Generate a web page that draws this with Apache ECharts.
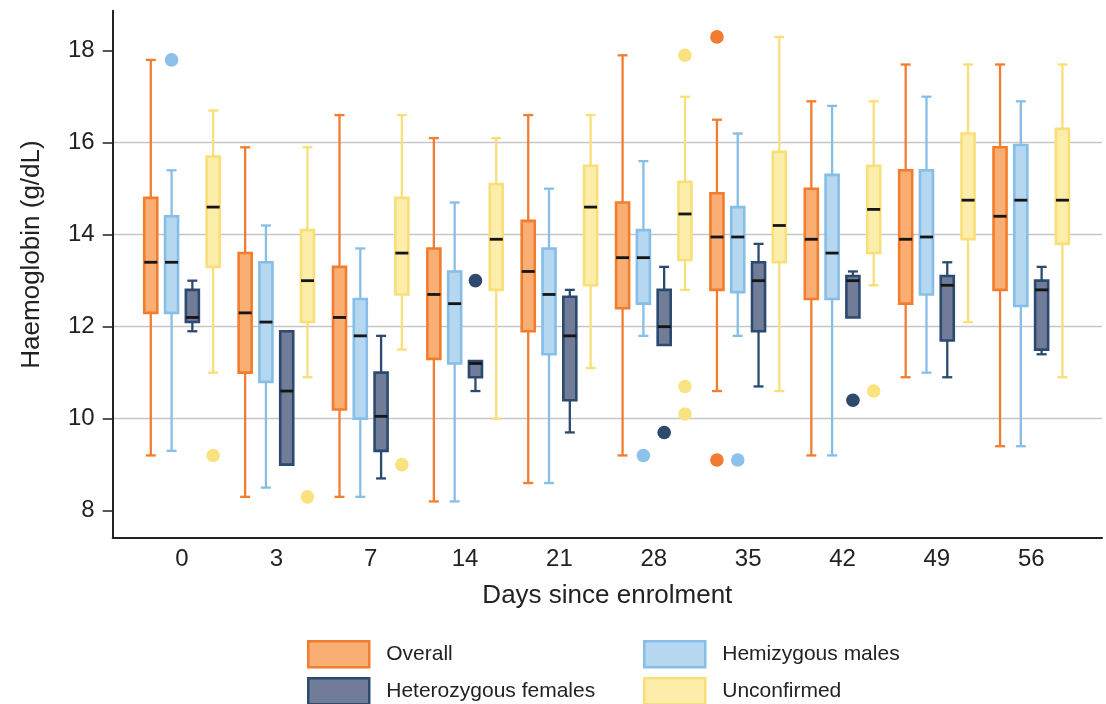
<!DOCTYPE html>
<html><head><meta charset="utf-8">
<script src="https://cdn.jsdelivr.net/npm/echarts@6/dist/echarts.min.js"></script>
<style>html,body{margin:0;padding:0;background:#fff}#c{width:1106px;height:704px}</style>
</head><body><div id="c"></div>
<script>
// ---- data ----
const days = ['0','3','7','14','21','28','35','42','49','56'];
const yTicks = [8, 10, 12, 14, 16, 18];
const groupNames = ['Overall', 'Hemizygous males', 'Heterozygous females', 'Unconfirmed'];

// [lower whisker, Q1, median, Q3, upper whisker] per day
const overall = [
  [9.2, 12.3, 13.4, 14.8, 17.8],
  [8.3, 11.0, 12.3, 13.6, 15.9],
  [8.3, 10.2, 12.2, 13.3, 16.6],
  [8.2, 11.3, 12.7, 13.7, 16.1],
  [8.6, 11.9, 13.2, 14.3, 16.6],
  [9.2, 12.4, 13.5, 14.7, 17.9],
  [10.6, 12.8, 13.95, 14.9, 16.5],
  [9.2, 12.6, 13.9, 15.0, 16.9],
  [10.9, 12.5, 13.9, 15.4, 17.7],
  [9.4, 12.8, 14.4, 15.9, 17.7]
];
const hemiMales = [
  [9.3, 12.3, 13.4, 14.4, 15.4],
  [8.5, 10.8, 12.1, 13.4, 14.2],
  [8.3, 10.0, 11.8, 12.6, 13.7],
  [8.2, 11.2, 12.5, 13.2, 14.7],
  [8.6, 11.4, 12.7, 13.7, 15.0],
  [11.8, 12.5, 13.5, 14.1, 15.6],
  [11.8, 12.75, 13.95, 14.6, 16.2],
  [9.2, 12.6, 13.6, 15.3, 16.8],
  [11.0, 12.7, 13.95, 15.4, 17.0],
  [9.4, 12.45, 14.75, 15.95, 16.9]
];
const hetFemales = [
  [11.9, 12.1, 12.2, 12.8, 13.0],
  [9.0, 9.0, 10.6, 11.9, 11.9],
  [8.7, 9.3, 10.05, 11.0, 11.8],
  [10.6, 10.9, 11.2, 11.25, 11.25],
  [9.7, 10.4, 11.8, 12.65, 12.8],
  [11.6, 11.6, 12.0, 12.8, 13.3],
  [10.7, 11.9, 13.0, 13.4, 13.8],
  [12.2, 12.2, 13.0, 13.1, 13.2],
  [10.9, 11.7, 12.9, 13.1, 13.4],
  [11.4, 11.5, 12.8, 13.0, 13.3]
];
const unconfirmed = [
  [11.0, 13.3, 14.6, 15.7, 16.7],
  [10.9, 12.1, 13.0, 14.1, 15.9],
  [11.5, 12.7, 13.6, 14.8, 16.6],
  [10.0, 12.8, 13.9, 15.1, 16.1],
  [11.1, 12.9, 14.6, 15.5, 16.6],
  [12.8, 13.45, 14.45, 15.15, 17.0],
  [10.6, 13.4, 14.2, 15.8, 18.3],
  [12.9, 13.6, 14.55, 15.5, 16.9],
  [12.1, 13.9, 14.75, 16.2, 17.7],
  [10.9, 13.8, 14.75, 16.3, 17.7]
];
// outliers: [day index, value]
const overallOutliers = [[6, 18.3], [6, 9.1]];
const hemiOutliers = [[0, 17.8], [5, 9.2], [6, 9.1]];
const hetOutliers = [[3, 13.0], [5, 9.7], [7, 10.4]];
const unconfOutliers = [[0, 9.2], [1, 8.3], [2, 9.0], [5, 17.9], [5, 10.7], [5, 10.1], [7, 10.6]];

// ---- styles ----
const strokes = ['#F27D2F', '#86BEE7', '#2C4A6F', '#F8DF78'];
const fills = ['#F9AE74', '#B6D7F0', '#717C99', '#FCEEAA'];
const dots = ['#F07B31', '#8CC2EA', '#2D4A6E', '#F9E27F'];
const slotOffset = [-0.3305, -0.1102, 0.1102, 0.3305]; // fraction of one day-slot
const boxW = 0.138, capW = 0.106;
const FONT = 'Liberation Sans, Arial, Helvetica, sans-serif';

const boxSets = [overall, hemiMales, hetFemales, unconfirmed];
const outSets = [overallOutliers, hemiOutliers, hetOutliers, unconfOutliers];

function boxRenderer(gi) {
  return function (params, api) {
    const band = api.size([1, 0])[0];
    const cx = api.coord([api.value(0), 0])[0] + slotOffset[gi] * band;
    const lo = api.value(1), q1 = api.value(2), md = api.value(3), q3 = api.value(4), hi = api.value(5);
    const Y = v => api.coord([0, v])[1];
    const bw = boxW * band, cw = capW * band;
    const wStyle = { stroke: strokes[gi], lineWidth: 2.3, fill: null };
    const ch = [];
    if (Math.abs(hi - q3) > 1e-6) {
      ch.push({ type: 'line', shape: { x1: cx, y1: Y(q3), x2: cx, y2: Y(hi) }, style: wStyle });
      ch.push({ type: 'line', shape: { x1: cx - cw / 2, y1: Y(hi), x2: cx + cw / 2, y2: Y(hi) }, style: wStyle });
    }
    if (Math.abs(q1 - lo) > 1e-6) {
      ch.push({ type: 'line', shape: { x1: cx, y1: Y(q1), x2: cx, y2: Y(lo) }, style: wStyle });
      ch.push({ type: 'line', shape: { x1: cx - cw / 2, y1: Y(lo), x2: cx + cw / 2, y2: Y(lo) }, style: wStyle });
    }
    ch.push({ type: 'rect', shape: { x: cx - bw / 2, y: Y(q3), width: bw, height: Y(q1) - Y(q3) },
      style: { fill: fills[gi], stroke: strokes[gi], lineWidth: 2.6 } });
    ch.push({ type: 'line', shape: { x1: cx - bw / 2, y1: Y(md), x2: cx + bw / 2, y2: Y(md) },
      style: { stroke: '#151515', lineWidth: 2.8 } });
    return { type: 'group', children: ch };
  };
}
function dotRenderer(gi) {
  return function (params, api) {
    const band = api.size([1, 0])[0];
    const p = api.coord([api.value(0), api.value(1)]);
    return { type: 'circle', shape: { cx: p[0] + slotOffset[gi] * band, cy: p[1], r: 6.8 },
      style: { fill: dots[gi] } };
  };
}

const series = [];
boxSets.forEach((set, gi) => {
  series.push({
    type: 'custom', name: groupNames[gi], renderItem: boxRenderer(gi),
    itemStyle: { color: fills[gi], borderColor: strokes[gi] },
    encode: { x: 0, y: [1, 2, 3, 4, 5] },
    data: set.map((r, i) => [i].concat(r)), z: 3
  });
  series.push({
    type: 'custom', name: groupNames[gi], renderItem: dotRenderer(gi),
    itemStyle: { color: dots[gi] },
    encode: { x: 0, y: 1 },
    data: outSets[gi], z: 4
  });
});

// legend layout: [group index, left, top]
const legendSlots = [[0, 307, 640], [2, 307, 677], [1, 643, 640], [3, 643, 677]];
const legends = legendSlots.map(s => ({
  left: s[1], top: s[2], padding: 0, orient: 'horizontal',
  itemWidth: 61, itemHeight: 26, itemGap: 0,
  textStyle: { fontSize: 21, color: '#222', fontFamily: FONT, padding: [0, 0, 0, 12] },
  data: [{ name: groupNames[s[0]], icon: 'rect',
    itemStyle: { color: fills[s[0]], borderColor: strokes[s[0]], borderWidth: 2.5 } }]
}));

const chart = echarts.init(document.getElementById('c'), null, { renderer: 'canvas' });
chart.setOption({
  animation: false,
  backgroundColor: '#ffffff',
  textStyle: { fontFamily: FONT },
  grid: { left: 112.7, right: 4, top: 10.7, bottom: 166.7, containLabel: false },
  legend: legends,
  xAxis: {
    type: 'value', min: -0.734, max: 9.75,
    axisLine: { show: true, onZero: false, lineStyle: { color: '#222', width: 2 } },
    axisTick: { show: false },
    splitLine: { show: false },
    axisLabel: { customValues: days.map((d, i) => i), formatter: v => days[Math.round(v)],
      fontSize: 24, color: '#222', margin: 10, fontFamily: FONT },
    name: 'Days since enrolment', nameLocation: 'middle', nameGap: 46,
    nameTextStyle: { fontSize: 26, color: '#222', fontFamily: FONT }
  },
  yAxis: {
    type: 'value', min: 7.42, max: 18.87,
    axisLine: { show: true, onZero: false, lineStyle: { color: '#222', width: 2 } },
    axisTick: { show: true, inside: false, length: 10, customValues: yTicks, lineStyle: { color: '#222', width: 1.5 } },
    axisLabel: { customValues: yTicks, fontSize: 24, color: '#222', margin: 18, fontFamily: FONT },
    splitLine: { show: true, showMinLine: false, showMaxLine: false, lineStyle: { color: '#c6c6c6', width: 1.3 } },
    name: 'Haemoglobin (g/dL)', nameLocation: 'middle', nameGap: 68, nameRotate: 90,
    nameTextStyle: { fontSize: 26, color: '#222', fontFamily: FONT, padding: [0, 0, 0, 39] }
  },
  series: series
});
</script>
</body></html>
